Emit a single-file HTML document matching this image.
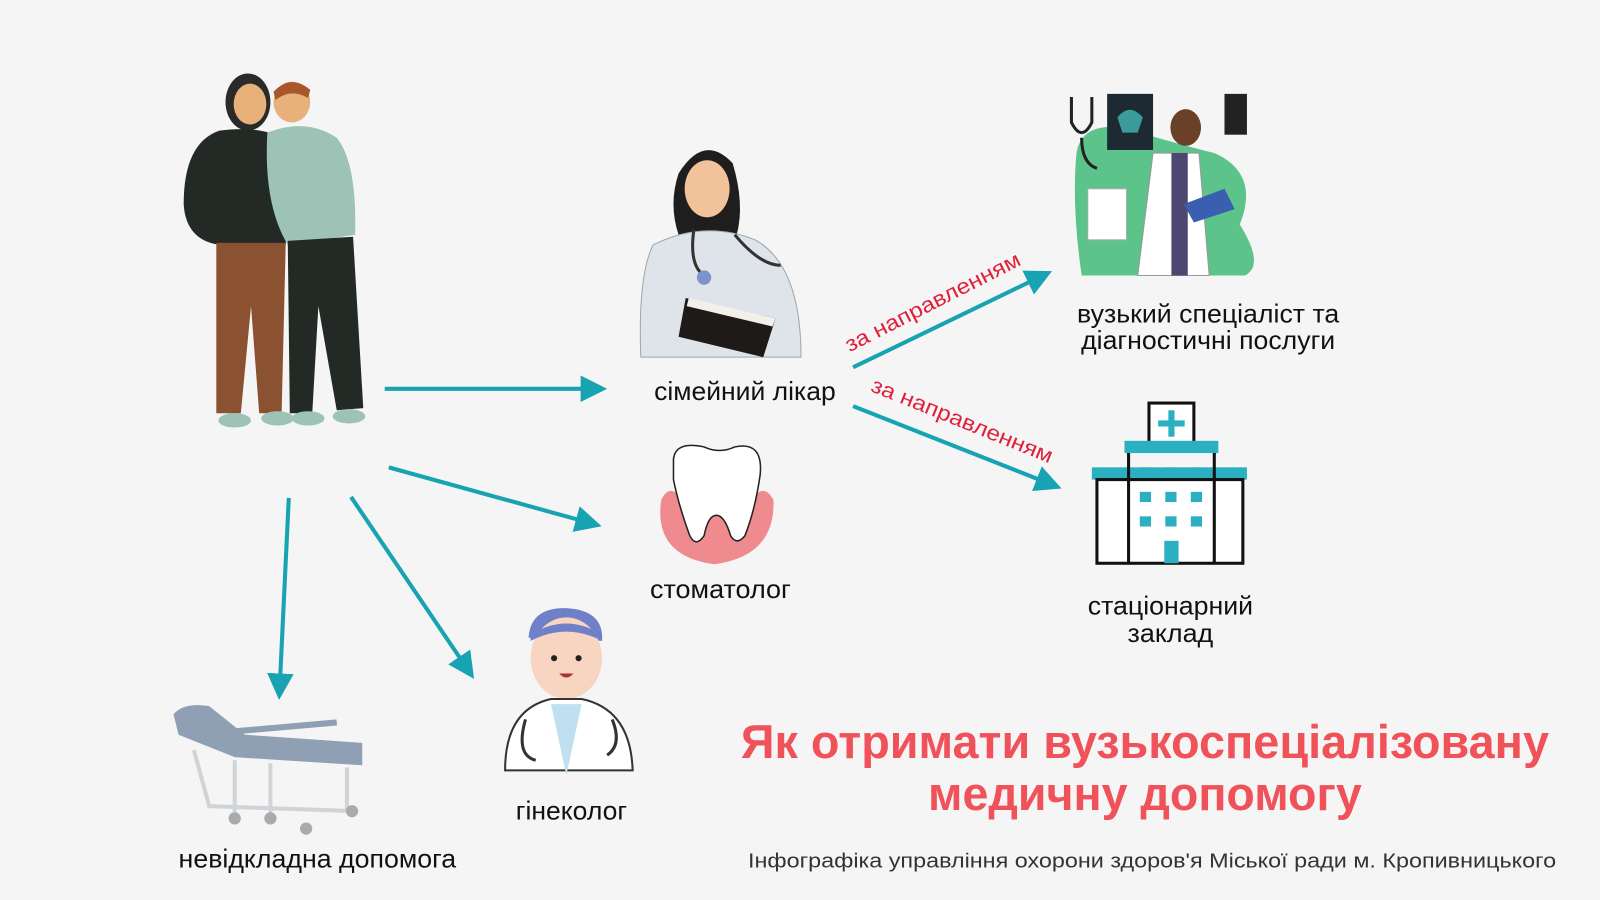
<!DOCTYPE html>
<html><head><meta charset="utf-8"><style>
html,body{margin:0;padding:0;background:#f5f5f5;}
svg{display:block;}
text{font-family:"Liberation Sans",sans-serif;}
</style></head><body>
<svg width="1600" height="900" viewBox="0 0 1568 882" xmlns="http://www.w3.org/2000/svg">
<defs>
<marker id="ah" markerWidth="6.5" markerHeight="6.5" refX="4" refY="3.25" orient="auto" markerUnits="strokeWidth">
<path d="M0,0 L6.5,3.25 L0,6.5 Z" fill="#18a3b2"/>
</marker>
</defs>
<rect width="1568" height="882" fill="#f5f5f5"/>

<!-- couple -->
<g>
<ellipse cx="243" cy="100" rx="22" ry="28" fill="#2a2a2a"/>
<ellipse cx="245" cy="102" rx="16" ry="20" fill="#e8b07a"/>
<ellipse cx="286" cy="100" rx="18" ry="20" fill="#e8b07a"/>
<path d="M268,90 Q285,72 304,88 L302,96 Q285,86 270,98Z" fill="#a8562a"/>
<path d="M215,128 Q180,140 180,200 Q182,235 215,240 L280,240 L285,140 Q260,122 215,128Z" fill="#232a26"/>
<path d="M262,130 Q300,115 330,135 Q350,160 348,230 L282,240 Q258,200 262,130Z" fill="#9cc3b5"/>
<path d="M212,238 L280,238 L276,405 L254,405 L246,300 L236,405 L212,405Z" fill="#8a5230"/>
<path d="M282,236 L346,232 L356,400 L330,402 L312,300 L306,405 L284,405Z" fill="#232a26"/>
<ellipse cx="230" cy="412" rx="16" ry="7" fill="#9cc3b5"/>
<ellipse cx="272" cy="410" rx="16" ry="7" fill="#9cc3b5"/>
<ellipse cx="302" cy="410" rx="16" ry="7" fill="#9cc3b5"/>
<ellipse cx="342" cy="408" rx="16" ry="7" fill="#9cc3b5"/>
</g>

<!-- family doctor -->
<g>
<path d="M665,170 Q690,130 718,160 Q730,200 722,230 L665,230 Q655,200 665,170Z" fill="#1e1e1e"/>
<ellipse cx="693" cy="185" rx="22" ry="28" fill="#f2c29a"/>
<path d="M640,240 Q690,215 740,235 Q785,260 785,350 L628,350 Q625,270 640,240Z" fill="#dfe3ea" stroke="#9aa" stroke-width="1"/>
<path d="M680,225 Q675,260 690,270 M720,230 Q745,260 765,260" stroke="#333" stroke-width="3" fill="none"/>
<circle cx="690" cy="272" r="7" fill="#7d93c9"/>
<path d="M672,292 L760,312 L748,350 L665,330Z" fill="#1e1a18"/>
<path d="M675,292 L760,312 L757,320 L673,300Z" fill="#f3f0ea"/>
</g>

<!-- tooth -->
<g>
<path d="M648,490 Q640,545 700,553 Q760,545 758,490 Q750,475 740,485 L665,485 Q655,475 648,490Z" fill="#ef8a8e"/>
<path d="M660,450 Q662,432 690,438 Q705,445 720,438 Q748,432 745,465 Q740,500 730,525 Q722,535 716,525 Q710,505 702,505 Q694,505 690,525 Q682,537 676,525 Q665,495 660,470Z" fill="#fff" stroke="#222" stroke-width="1.5"/>
</g>

<!-- gynecologist -->
<g>
<path d="M518,625 Q520,595 555,596 Q592,598 590,628 Z" fill="#6f80c8"/>
<ellipse cx="555" cy="645" rx="35" ry="40" fill="#f7d5c0"/>
<path d="M520,628 Q555,610 590,628 L590,622 Q555,600 520,622Z" fill="#6f80c8"/>
<circle cx="543" cy="645" r="3" fill="#222"/><circle cx="567" cy="645" r="3" fill="#222"/>
<path d="M548,660 Q555,668 562,660Z" fill="#a33"/>
<path d="M495,755 Q495,695 540,685 L570,685 Q618,695 620,755Z" fill="#fff" stroke="#333" stroke-width="2"/>
<path d="M540,690 L555,760 L570,690Z" fill="#bfe0f0"/>
<path d="M515,705 Q505,740 525,745 M600,705 Q610,730 595,740" stroke="#333" stroke-width="3" fill="none"/>
</g>

<!-- stretcher -->
<g>
<path d="M170,700 Q180,688 205,692 L240,720 L355,728 L355,750 L230,742 L175,720Z" fill="#8fa0b5"/>
<path d="M215,718 L330,708" stroke="#8fa0b5" stroke-width="6"/>
<path d="M190,735 L205,790 L350,795 M230,745 L230,800 M340,752 L340,795 M265,748 L265,800" stroke="#d0d4d8" stroke-width="4" fill="none"/>
<circle cx="230" cy="802" r="6" fill="#aaa"/><circle cx="300" cy="812" r="6" fill="#aaa"/><circle cx="345" cy="795" r="6" fill="#aaa"/><circle cx="265" cy="802" r="6" fill="#aaa"/>
</g>

<!-- specialist -->
<g>
<path d="M1055,150 Q1060,120 1100,125 Q1150,140 1190,150 Q1235,170 1215,220 Q1240,260 1220,270 L1060,270 Q1050,200 1055,150Z" fill="#5cc48a"/>
<rect x="1085" y="92" width="45" height="55" fill="#1d2a33"/>
<path d="M1095,115 Q1107,100 1120,115 L1115,130 L1100,130Z" fill="#3b9a9a"/>
<rect x="1200" y="92" width="22" height="40" fill="#222"/>
<path d="M1050,95 L1050,120 Q1060,140 1070,120 L1070,95 M1060,135 Q1060,160 1075,165" stroke="#222" stroke-width="3" fill="none"/>
<rect x="1066" y="185" width="38" height="50" fill="#fff" stroke="#aaa"/>
<path d="M1130,150 L1175,150 L1185,270 L1115,270Z" fill="#fff" stroke="#999"/>
<rect x="1148" y="150" width="16" height="120" fill="#4d4870"/>
<ellipse cx="1162" cy="125" rx="15" ry="18" fill="#6b4028"/>
<path d="M1160,200 L1200,185 L1210,205 L1170,218Z" fill="#3a5fb0"/>
</g>

<!-- hospital -->
<g>
<rect x="1126" y="395" width="44" height="40" fill="#fff" stroke="#111" stroke-width="3"/>
<path d="M1148,402 V428 M1135,415 H1161" stroke="#2bb0c2" stroke-width="6"/>
<rect x="1102" y="432" width="92" height="12" fill="#2bb0c2"/>
<rect x="1070" y="458" width="152" height="12" fill="#2bb0c2"/>
<rect x="1075" y="470" width="143" height="82" fill="#fff" stroke="#111" stroke-width="3"/>
<path d="M1106,444 V552 M1190,444 V552" stroke="#111" stroke-width="3"/>
<g fill="#2bb0c2">
<rect x="1117" y="458" width="11" height="10"/><rect x="1142" y="458" width="11" height="10"/><rect x="1167" y="458" width="11" height="10"/>
<rect x="1117" y="482" width="11" height="10"/><rect x="1142" y="482" width="11" height="10"/><rect x="1167" y="482" width="11" height="10"/>
<rect x="1117" y="506" width="11" height="10"/><rect x="1142" y="506" width="11" height="10"/><rect x="1167" y="506" width="11" height="10"/>
<rect x="1141" y="530" width="14" height="22"/>
</g>
</g>

<!-- arrows -->
<g stroke="#18a3b2" stroke-width="4" fill="none" marker-end="url(#ah)">
<line x1="377" y1="381" x2="585" y2="381"/>
<line x1="381" y1="458" x2="580" y2="513"/>
<line x1="344" y1="487" x2="459" y2="657"/>
<line x1="283" y1="488" x2="274" y2="676"/>
<line x1="836" y1="360" x2="1022" y2="270"/>
<line x1="836" y1="398" x2="1031" y2="475"/>
</g>

<text x="914" y="303" font-size="21" fill="#e0203a" text-anchor="middle" textLength="190" lengthAdjust="spacingAndGlyphs" transform="rotate(-27 914 296)">за направленням</text>
<text x="943" y="419" font-size="21" fill="#e0203a" text-anchor="middle" textLength="190" lengthAdjust="spacingAndGlyphs" transform="rotate(22 943 412)">за направленням</text>

<g font-size="25" fill="#111" text-anchor="middle" lengthAdjust="spacingAndGlyphs">
<text x="730" y="392" textLength="178" lengthAdjust="spacingAndGlyphs">сімейний лікар</text>
<text x="706" y="586" textLength="138" lengthAdjust="spacingAndGlyphs">стоматолог</text>
<text x="560" y="803" textLength="109" lengthAdjust="spacingAndGlyphs">гінеколог</text>
<text x="311" y="850" textLength="272" lengthAdjust="spacingAndGlyphs">невідкладна допомога</text>
<text x="1184" y="316" textLength="257" lengthAdjust="spacingAndGlyphs">вузький спеціаліст та</text>
<text x="1184" y="342" textLength="249" lengthAdjust="spacingAndGlyphs">діагностичні послуги</text>
<text x="1147" y="602" textLength="162" lengthAdjust="spacingAndGlyphs">стаціонарний</text>
<text x="1147" y="629" textLength="84" lengthAdjust="spacingAndGlyphs">заклад</text>
</g>

<g font-size="46" font-weight="bold" fill="#f0525a" text-anchor="middle">
<text x="1122" y="743" textLength="792" lengthAdjust="spacingAndGlyphs">Як отримати вузькоспеціалізовану</text>
<text x="1122" y="794" textLength="425" lengthAdjust="spacingAndGlyphs">медичну допомогу</text>
</g>
<text x="1129" y="850" font-size="20" fill="#333" text-anchor="middle" textLength="792" lengthAdjust="spacingAndGlyphs">Інфографіка управління охорони здоров'я Міської ради м. Кропивницького</text>
</svg>
</body></html>
